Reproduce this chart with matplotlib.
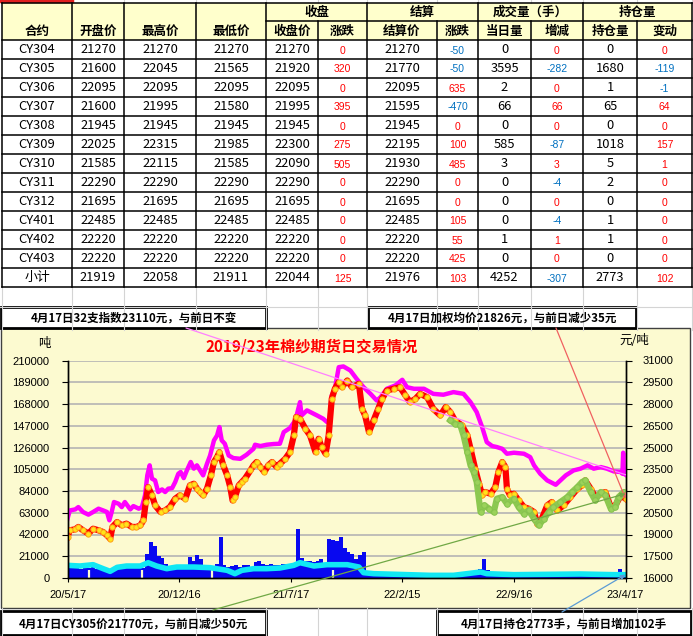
import numpy as np
import matplotlib
matplotlib.use('Agg')
import matplotlib.pyplot as plt
from matplotlib.patches import Rectangle, ConnectionPatch

plt.rcParams['font.family'] = ['Noto Sans CJK SC', 'DejaVu Sans']

# ============================================================
# TABLE DATA
# ============================================================

contracts = ['CY304', 'CY305', 'CY306', 'CY307', 'CY308', 'CY309', 'CY310',
             'CY311', 'CY312', 'CY401', 'CY402', 'CY403', '小计']
open_px = [21270, 21600, 22095, 21600, 21945, 22025, 21585, 22290, 21695, 22485, 22220, 22220, 21919]
high_px = [21270, 22045, 22095, 21995, 21945, 22315, 22115, 22290, 21695, 22485, 22220, 22220, 22058]
low_px = [21270, 21565, 22095, 21580, 21945, 21985, 21585, 22290, 21695, 22485, 22220, 22220, 21911]
close_px = [21270, 21920, 22095, 21995, 21945, 22300, 22090, 22290, 21695, 22485, 22220, 22220, 22044]
close_chg = [0, 320, 0, 395, 0, 275, 505, 0, 0, 0, 0, 0, 125]
settle_px = [21270, 21770, 22095, 21595, 21945, 22195, 21930, 22290, 21695, 22485, 22220, 22220, 21976]
settle_chg = [-50, -50, 635, -470, 0, 100, 485, 0, 0, 105, 55, 425, 103]
day_vol = [0, 3595, 2, 66, 0, 585, 3, 0, 0, 0, 1, 0, 4252]
vol_chg = [0, -282, 0, 66, 0, -87, 3, -4, 0, -4, 1, 0, -307]
hold = [0, 1680, 1, 65, 0, 1018, 5, 2, 0, 1, 1, 0, 2773]
hold_chg = [0, -119, -1, 64, 0, 157, 1, 0, 0, 0, 0, 0, 102]

sub_headers = ['合约', '开盘价', '最高价', '最低价', '收盘价', '涨跌',
               '结算价', '涨跌', '当日量', '增减', '持仓量', '变动']
group_headers = ['收盘', '结算', '成交量（手）', '持仓量']

# ============================================================
# CHART DATA  (x = trading day index, 0 .. 720)
# ============================================================

date_labels = ['20/5/17', '20/12/16', '21/7/17', '22/2/15', '22/9/16', '23/4/17']

# 32-count yarn index (magenta, right axis)
index_x = [0, 3, 10, 14, 20, 27, 33, 40, 46, 51, 54, 57, 60, 66, 70, 74, 81, 85, 92, 96,
           100, 103, 106, 109, 113, 117, 122, 126, 130, 135, 139, 143, 146, 150, 154, 159,
           163, 167, 171, 175, 180, 184, 189, 193, 196, 199, 203, 208, 214, 223, 231, 240,
           242, 249, 257, 266, 274, 279, 287, 294, 300, 302, 309, 322, 330, 335, 338, 341,
           345, 350, 356, 365, 373, 382, 391, 399, 404, 412, 423, 432, 438, 447, 460, 472,
           485, 498, 511, 520, 528, 535, 541, 548, 554, 561, 567, 576, 589, 597, 602, 610,
           619, 630, 636, 643, 653, 662, 671, 679, 688, 696, 705, 714, 716, 717, 718, 720]
index_y = [20090, 20660, 20730, 20890, 20550, 20370, 20550, 20780, 20660, 20550, 19980, 20550,
           21240, 21120, 20890, 21240, 20730, 20960, 20780, 20890, 21700, 23080, 23770, 22850,
           22730, 21930, 22110, 21930, 22160, 22200, 22620, 23190, 23310, 22890, 23420, 24000,
           23540, 23770, 23420, 23080, 23880, 24450, 25490, 25830, 26410, 25490, 25260, 24450,
           24270, 24220, 24500, 24910, 25190, 25100, 25190, 25240, 25260, 26060, 26340, 26870,
           28130, 27210, 27560, 27210, 26980, 26750, 26870, 28590, 29050, 30540, 30590, 30310,
           29740, 29160, 28700, 28240, 28470, 29050, 29280, 29670, 29160, 29050, 29050, 28700,
           28640, 28820, 28700, 28130, 27440, 26410, 25370, 25100, 25030, 24910, 24570, 24640,
           24570, 24340, 23770, 23190, 22730, 22430, 22730, 23080, 23420, 23540, 23770, 23540,
           23650, 23540, 23350, 23310, 23190, 24640, 23190, 23120]

# weighted average price (red line with yellow dots, right axis)
avg_x = [0, 3, 10, 14, 20, 27, 33, 40, 46, 51, 55, 58, 64, 70, 76, 83, 89, 94, 98, 101,
         104, 109, 113, 120, 126, 132, 139, 145, 152, 158, 163, 167, 171, 175, 180, 185, 189,
         193, 196, 201, 206, 210, 213, 216, 221, 225, 229, 236, 240, 244, 249, 254, 259, 264,
         270, 274, 281, 287, 292, 295, 300, 307, 313, 320, 324, 328, 333, 337, 341, 345, 350,
         354, 361, 367, 376, 380, 384, 389, 395, 401, 406, 412, 421, 429, 436, 442, 449, 455,
         464, 472, 481, 488, 494, 500, 509, 516, 520, 526, 531, 535, 539, 546, 552, 556, 561,
         565, 567, 571, 576, 582, 589, 595, 602, 606, 612, 619, 625, 632, 640, 649, 658, 664,
         668, 675, 681, 688, 694, 701, 707, 714, 720]
avg_y = [18830, 19290, 19360, 19520, 19290, 19060, 19400, 19290, 19170, 18940, 18710, 19520,
         19860, 19630, 19750, 19520, 19520, 19630, 19980, 21240, 22270, 21700, 21010, 20550,
         20660, 20890, 21470, 21700, 21470, 22390, 22500, 22160, 21930, 21700, 22160, 23080,
         24000, 24340, 24680, 23770, 23080, 22270, 21350, 21580, 22390, 22620, 22850, 23420,
         23770, 24000, 23650, 23310, 23770, 24000, 23650, 23880, 24220, 24680, 25830, 27100,
         26980, 26290, 25830, 24680, 25600, 25030, 24570, 25830, 28360, 29050, 29510, 29160,
         29620, 29160, 29390, 27670, 27210, 26060, 26870, 27670, 28360, 28930, 29050, 29160,
         28590, 28130, 28360, 28700, 28470, 27670, 27210, 27790, 27440, 26870, 26520, 25830,
         24910, 23540, 22500, 21700, 21930, 21810, 22270, 23310, 24000, 23650, 22160, 21700,
         21810, 21350, 20890, 20780, 20550, 19750, 20090, 21010, 21240, 20660, 21010, 21580,
         22160, 22390, 22730, 22160, 21580, 21810, 21930, 20890, 21010, 21700, 21470]

# CY305 price (green, right axis)
cy305_x = [494, 500, 507, 511, 516, 520, 524, 528, 533, 538, 544, 550, 554, 561, 567, 576,
           582, 589, 595, 602, 608, 615, 621, 627, 636, 645, 651, 658, 664, 668, 675, 681,
           688, 694, 701, 707, 711, 718, 720]
cy305_y = [26870, 26640, 26520, 25830, 24680, 23770, 23310, 22620, 20550, 21010, 20780, 20550,
           21470, 21580, 21120, 21470, 20890, 20430, 20660, 20090, 19630, 20090, 20550, 20890,
           21240, 21580, 21930, 22270, 22620, 22730, 21930, 21350, 21930, 21700, 20780, 20890,
           21580, 21930, 21810]

# open interest (cyan, left axis)
oi_x = [0, 16, 33, 46, 55, 64, 76, 94, 104, 115, 128, 141, 163, 184, 206, 216, 225, 240,
        257, 274, 292, 300, 318, 335, 361, 376, 382, 395, 425, 468, 498, 533, 541, 576, 619,
        662, 705, 720]
oi_y = [12220, 11580, 12860, 9000, 6430, 10290, 11580, 11580, 14790, 11580, 9000, 10610,
        10610, 9970, 7400, 4180, 7400, 9000, 9000, 9650, 12220, 14790, 11580, 12860, 12860,
        10610, 5150, 4180, 3540, 2570, 2570, 5790, 4180, 3220, 3540, 3860, 3220, 3220]

# daily volume, one value per 5 trading days (blue bars, left axis)
vol_vals = [12800, 10000, 9500, 9000, 9500, 9500, 10500, 9000, 12000, 9000,
            8500, 8000, 9500, 10000, 11000, 9500, 12500, 10000, 11000, 10000,
            23000, 35000, 31000, 21000, 19000, 14000, 12000, 11000, 13000, 11500,
            12000, 20000, 16000, 22500, 18000, 12500, 10500, 9000, 14000, 40000,
            13000, 10500, 12000, 12500, 11000, 13000, 12500, 10000, 15000, 16500,
            14000, 13000, 13500, 12500, 12500, 13500, 13500, 13000, 14500, 47000,
            19000, 16500, 16000, 15500, 16000, 18500, 14000, 38000, 37000, 36000,
            40000, 29000, 25500, 23500, 18500, 22000, 25500, 3000, 2500, 2500,
            3000, 2500, 2000, 3500, 2500, 4000, 3000, 2500, 2000, 2500,
            3000, 2500, 2000, 2500, 3000, 2500, 2000, 2500, 3000, 3500,
            3000, 2500, 3000, 3500, 4000, 5500, 9000, 18500, 8000, 4000,
            3500, 3000, 4000, 3500, 4500, 3500, 3000, 4000, 3500, 3000,
            2500, 3000, 3500, 3000, 4000, 5000, 3500, 3000, 2500, 3000,
            4000, 3500, 3000, 2500, 3000, 3500, 3000, 2500, 3000, 3500,
            4000, 5000, 8500, 4500]
vol_step = 5
holidays = [28, 96, 186, 343]

box_texts = ['4月17日32支指数23110元，与前日不变',
             '4月17日加权均价21826元，与前日减少35元',
             '4月17日CY305价21770元，与前日减少50元',
             '4月17日持仓2773手，与前日增加102手']

# ============================================================
# FIGURE / LAYOUT (pixel canvas)
# ============================================================

W, H = 693, 636
fig = plt.figure(figsize=(W / 100, H / 100), dpi=100)
lay = fig.add_axes([0, 0, 1, 1])
lay.set_xlim(0, W)
lay.set_ylim(H, 0)
lay.axis('off')

GRID = '#D4D4D4'
PANEL = '#FCFAD0'

col_edges = [2, 72, 124, 196, 266, 318, 367, 437, 478, 531, 583, 637, 692]
head_top, head_mid, head_bot, row_h = 3, 21, 40, 19
tab_bot = head_bot + row_h * len(contracts)

# spreadsheet grid lines outside the table
for x in col_edges:
    lay.plot([x, x], [0, head_top], color=GRID, lw=0.8)
    lay.plot([x, x], [tab_bot, 330], color=GRID, lw=0.8)
    lay.plot([x, x], [608, H], color=GRID, lw=0.8)
lay.plot([0, W], [307, 307], color=GRID, lw=0.8)
lay.plot([0, 72], [1, 1], color='#E02020', lw=2.5)

# ------------------------------------------------------------
# table
# ------------------------------------------------------------

lay.add_patch(Rectangle((col_edges[0], head_top), col_edges[-1] - col_edges[0],
                        head_bot - head_top, facecolor='#FFFFCC', edgecolor='none'))
lay.add_patch(Rectangle((col_edges[0], head_bot), col_edges[-1] - col_edges[0],
                        tab_bot - head_bot, facecolor='white', edgecolor='none'))

lk = dict(color='black', lw=1.1)
lay.plot([col_edges[0], col_edges[-1]], [head_top, head_top], **lk)
lay.plot([col_edges[4], col_edges[-1]], [head_mid, head_mid], **lk)
for r in range(len(contracts) + 1):
    y = head_bot + r * row_h
    lay.plot([col_edges[0], col_edges[-1]], [y, y], **lk)
for i, x in enumerate(col_edges):
    top = head_mid if i in (5, 7, 9, 11) else head_top
    lay.plot([x, x], [top, tab_bot], **lk)

columns = [contracts, open_px, high_px, low_px, close_px, close_chg,
           settle_px, settle_chg, day_vol, vol_chg, hold, hold_chg]
colored = {5, 7, 9, 11}

for c, name in enumerate(sub_headers):
    xc = (col_edges[c] + col_edges[c + 1]) / 2
    lay.text(xc, 31, name, ha='center', va='center', fontsize=9, fontweight='bold')
for g, name in enumerate(group_headers):
    c = 4 + 2 * g
    xc = (col_edges[c] + col_edges[c + 2]) / 2
    lay.text(xc, 12, name, ha='center', va='center', fontsize=9, fontweight='bold')

for c, col in enumerate(columns):
    xc = (col_edges[c] + col_edges[c + 1]) / 2
    for r, v in enumerate(col):
        yc = head_bot + r * row_h + row_h / 2
        if c in colored:
            lay.text(xc, yc + 1, str(v), ha='center', va='center', fontsize=7.5,
                     family='Liberation Sans',
                     color='#FF0000' if v >= 0 else '#0070C0')
        else:
            lay.text(xc, yc, str(v), ha='center', va='center', fontsize=9.3,
                     color='black')

# ------------------------------------------------------------
# chart panel + boxes
# ------------------------------------------------------------

lay.add_patch(Rectangle((1, 328), 689, 280, facecolor=PANEL, edgecolor='#404040', lw=1))

boxes = [(1, 307, 265, 21), (368, 307, 268, 21), (1, 611, 265, 24), (437, 611, 254, 24)]
for (bx, by, bw, bh), txt in zip(boxes, box_texts):
    lay.add_patch(Rectangle((bx, by), bw, bh, facecolor='white', edgecolor='black', lw=2))
    lay.text(bx + bw / 2, by + bh / 2 + 1, txt, ha='center', va='center',
             fontsize=8.3, fontweight='bold')

lay.text(312, 347, '2019/23年棉纱期货日交易情况', ha='center', va='center',
         fontsize=11, fontweight='bold', color='#FF0000')
lay.text(44, 343, '吨', ha='center', va='center', fontsize=9)
lay.text(634, 340, '元/吨', ha='center', va='center', fontsize=9)

# ============================================================
# CHART
# ============================================================

ax = fig.add_axes([67.5 / W, (H - 578) / H, 558 / W, 217.5 / H])
ax.set_facecolor('none')
ax.set_xlim(0, 720)
ax.set_ylim(0, 210000)
ax.set_yticks(np.arange(0, 210001, 21000))
ax.yaxis.grid(True, color='#B4B4B4', lw=1.2)
ax.set_axisbelow(True)

vol_x = np.arange(len(vol_vals)) * vol_step
ax.bar(vol_x, vol_vals, width=vol_step, align='edge', color='#0808F0', lw=0)
ax.vlines(holidays, 0, 8000, color=PANEL, lw=1.6)
ax.plot(oi_x, oi_y, color='#10E8F4', lw=4, solid_capstyle='round')

ax2 = ax.twinx()
ax2.set_ylim(16000, 31000)
ax2.set_yticks(np.arange(16000, 31001, 1500))
ax2.plot(index_x, index_y, color='#FF00FF', lw=3.2, solid_joinstyle='round')
ax2.plot(avg_x, avg_y, color='#FF0000', lw=4.5, solid_joinstyle='round')
ax2.plot(avg_x, avg_y, ls='none', marker='o', ms=3.8, mfc='#FFE41A', mec='#FFA31A', mew=0.7)
ax2.plot(cy305_x, cy305_y, color='#8CC850', lw=4.5, solid_joinstyle='round')
ax2.plot(cy305_x, cy305_y, ls='none', marker='o', ms=4, mfc='#9BD25B', mec='#86C24E', mew=0.7)

ax.set_xticks(np.linspace(0, 720, len(date_labels)))
ax.set_xticklabels(date_labels)

for a in (ax, ax2):
    for s in a.spines.values():
        s.set_color('black')
        s.set_linewidth(1)
    a.spines['top'].set_visible(False)
ax.tick_params(axis='y', direction='out', length=4, pad=9, labelsize=8)
ax.tick_params(axis='x', direction='out', length=3, pad=6, labelsize=8)
ax2.tick_params(axis='y', direction='out', length=4, pad=8, labelsize=8)
for lbl in ax.get_yticklabels() + ax.get_xticklabels() + ax2.get_yticklabels():
    lbl.set_fontfamily('Liberation Sans')

# ------------------------------------------------------------
# callout lines from boxes to series ends
# ------------------------------------------------------------

callouts = [
    ((186, 328), (index_x[-1], index_y[-1]), ax2, '#FF80FF', '-'),
    ((556, 328), (avg_x[-1], avg_y[-1]), ax2, '#F06060', '-|>'),
    ((213, 610), (cy305_x[-1], cy305_y[-1]), ax2, '#70A845', '-|>'),
    ((562, 612), (oi_x[-1], oi_y[-1]), ax, '#5B9BD5', '-|>'),
]
for a_pt, b_pt, tgt, col, style in callouts:
    cp = ConnectionPatch(xyA=a_pt, coordsA=lay.transData, xyB=b_pt, coordsB=tgt.transData,
                         arrowstyle=style, mutation_scale=7, color=col, lw=0.9)
    fig.add_artist(cp)

fig.savefig('out.png', dpi=100)
